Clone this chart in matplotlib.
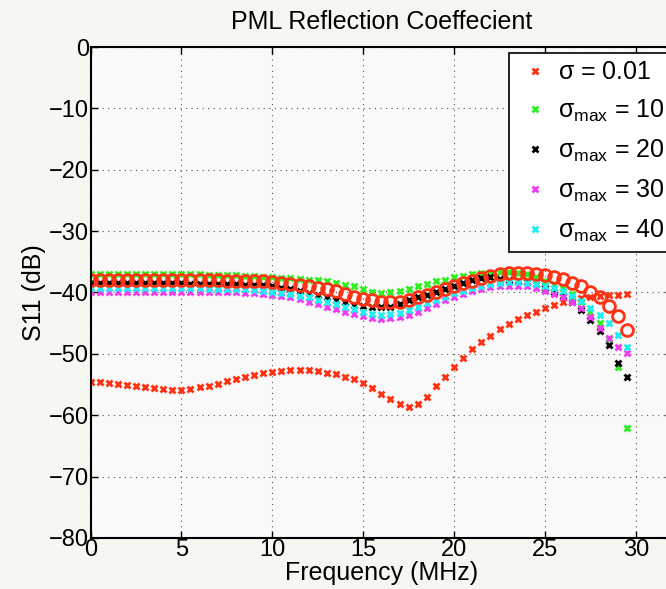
import matplotlib

matplotlib.use("Agg")
import matplotlib.pyplot as plt

plt.rcParams["font.family"] = ["Liberation Sans", "DejaVu Sans"]
plt.rcParams["mathtext.fontset"] = "custom"
plt.rcParams["mathtext.rm"] = "Liberation Sans"
plt.rcParams["mathtext.it"] = "Liberation Sans"
plt.rcParams["mathtext.bf"] = "Liberation Sans"

# frequency samples (MHz)
freq_mhz = [
    0.0, 0.5, 1.0, 1.5, 2.0, 2.5, 3.0, 3.5, 4.0, 4.5,
    5.0, 5.5, 6.0, 6.5, 7.0, 7.5, 8.0, 8.5, 9.0, 9.5,
    10.0, 10.5, 11.0, 11.5, 12.0, 12.5, 13.0, 13.5, 14.0, 14.5,
    15.0, 15.5, 16.0, 16.5, 17.0, 17.5, 18.0, 18.5, 19.0, 19.5,
    20.0, 20.5, 21.0, 21.5, 22.0, 22.5, 23.0, 23.5, 24.0, 24.5,
    25.0, 25.5, 26.0, 26.5, 27.0, 27.5, 28.0, 28.5, 29.0, 29.5,
]

# S11 in dB per conductivity profile
s11_sigma_001 = [
    -54.6, -54.6, -54.7, -54.85, -55.0, -55.2, -55.4, -55.6, -55.8, -55.85,
    -55.85, -55.65, -55.4, -55.2, -54.85, -54.5, -54.1, -53.7, -53.4, -53.1,
    -52.9, -52.75, -52.6, -52.55, -52.6, -52.8, -53.05, -53.35, -53.7, -54.1,
    -54.8, -55.6, -56.5, -57.3, -58.1, -58.7, -58.2, -57.0, -55.3, -53.7,
    -52.1, -50.6, -49.2, -48.0, -47.1, -46.0, -45.2, -44.3, -43.7, -43.1,
    -42.6, -42.0, -41.6, -41.3, -40.9, -40.7, -40.55, -40.4, -40.35, -40.3,
]
s11_smax_10 = [
    -37.0, -37.0, -37.0, -37.0, -37.0, -37.0, -37.0, -37.0, -37.0, -37.05,
    -37.05, -37.05, -37.05, -37.1, -37.1, -37.1, -37.2, -37.25, -37.3, -37.4,
    -37.5, -37.6, -37.7, -37.8, -37.9, -38.0, -38.2, -38.45, -38.7, -39.0,
    -39.5, -39.9, -40.1, -40.0, -39.7, -39.4, -39.0, -38.65, -38.2, -37.95,
    -37.5, -37.25, -37.0, -36.85, -36.75, -36.7, -36.7, -36.8, -36.95, -37.4,
    -38.05, -38.6, -39.3, -40.3, -41.5, -43.1, -44.9, -47.6, -52.2, -62.1,
]
s11_smax_20 = [
    -38.5, -38.5, -38.5, -38.5, -38.5, -38.5, -38.5, -38.5, -38.5, -38.5,
    -38.5, -38.55, -38.55, -38.55, -38.6, -38.65, -38.65, -38.7, -38.75, -38.85,
    -39.0, -39.2, -39.4, -39.75, -40.1, -40.4, -40.8, -41.2, -41.6, -42.0,
    -42.2, -42.3, -42.4, -42.35, -41.8, -41.3, -40.8, -40.4, -40.0, -39.5,
    -39.0, -38.5, -38.0, -37.7, -37.5, -37.8, -37.9, -38.1, -38.3, -38.6,
    -39.2, -39.9, -40.6, -41.5, -42.8, -44.4, -46.2, -48.6, -51.5, -53.8,
]
s11_smax_30 = [
    -39.85, -39.85, -39.85, -39.85, -39.85, -39.85, -39.85, -39.85, -39.85, -39.85,
    -39.85, -39.85, -39.85, -39.9, -39.9, -39.95, -40.0, -40.05, -40.1, -40.25,
    -40.4, -40.6, -40.8, -41.1, -41.5, -41.9, -42.3, -42.7, -43.1, -43.5,
    -43.9, -44.2, -44.3, -44.2, -44.0, -43.6, -43.1, -42.5, -41.9, -41.3,
    -40.7, -40.2, -39.8, -39.4, -39.15, -39.0, -38.9, -38.9, -39.0, -39.3,
    -39.7, -40.2, -40.8, -41.6, -42.6, -44.0, -45.8, -47.45, -48.9, -49.8,
]
s11_smax_40 = [
    -39.3, -39.3, -39.3, -39.3, -39.3, -39.3, -39.3, -39.3, -39.3, -39.3,
    -39.3, -39.3, -39.3, -39.35, -39.35, -39.4, -39.45, -39.5, -39.55, -39.7,
    -39.85, -40.05, -40.3, -40.55, -40.8, -41.15, -41.5, -41.9, -42.3, -42.7,
    -43.2, -43.5, -43.65, -43.5, -43.3, -42.9, -42.4, -41.75, -41.2, -40.7,
    -40.1, -39.7, -39.3, -38.9, -38.6, -38.4, -38.3, -38.3, -38.4, -38.6,
    -38.9, -39.3, -39.8, -40.5, -41.4, -42.5, -43.65, -45.0, -46.9, -48.8,
]
# unlabelled reference run drawn as open circles
s11_reference = [
    -37.95, -37.95, -37.95, -37.95, -37.95, -37.95, -37.95, -37.95, -37.95, -37.95,
    -37.95, -37.95, -37.95, -37.95, -38.0, -38.05, -38.1, -38.1, -38.1, -38.2,
    -38.3, -38.45, -38.6, -38.8, -39.0, -39.25, -39.5, -39.8, -40.2, -40.7,
    -41.1, -41.3, -41.5, -41.6, -41.5, -41.3, -40.8, -40.4, -40.0, -39.5,
    -39.0, -38.5, -38.05, -37.7, -37.3, -37.0, -36.9, -36.85, -36.85, -36.95,
    -37.2, -37.5, -37.8, -38.4, -39.0, -39.85, -40.8, -42.2, -43.9, -46.1,
]

series_labels = [
    r"$\sigma$ = 0.01",
    r"$\sigma_{\mathrm{max}}$ = 10",
    r"$\sigma_{\mathrm{max}}$ = 20",
    r"$\sigma_{\mathrm{max}}$ = 30",
    r"$\sigma_{\mathrm{max}}$ = 40",
]
series_colors = ["#ff3214", "#2ef01e", "#000000", "#f23cf2", "#1ef0f0"]

fig = plt.figure(figsize=(6.66, 5.89), dpi=100, facecolor="#f7f7f2")
# axes run slightly past the right edge of the canvas
ax = fig.add_axes([0.1359, 0.0866, 0.8735, 0.8336], facecolor="#f9f9f9")

all_series = [s11_sigma_001, s11_smax_10, s11_smax_20, s11_smax_30, s11_smax_40]
for vals, lab, col in zip(all_series, series_labels, series_colors):
    ax.plot(freq_mhz, vals, ls="none", marker="x", ms=4.8, mew=2.0,
            color=col, label=lab)
ax.plot(freq_mhz, s11_reference, ls="none", marker="o", ms=8.5, mew=2.0,
        mfc="none", mec="#ff3214", label="_nolegend_")

ax.set_xlim(0, 32)
ax.set_ylim(-80, 0)
ax.set_xticks([0, 5, 10, 15, 20, 25, 30])
ax.set_yticks([0, -10, -20, -30, -40, -50, -60, -70, -80])
ax.tick_params(direction="in", top=True, right=True, labelsize=17,
               length=5, width=1, pad=1)
ax.grid(True, ls=(0, (1, 4)), color="#555555", lw=0.8)
for sp in ax.spines.values():
    sp.set_linewidth(1.5)

ax.set_title("PML Reflection Coeffecient", fontsize=18, pad=13)
ax.set_xlabel("Frequency (MHz)", fontsize=18, labelpad=0)
ax.set_ylabel("S11 (dB)", fontsize=18, labelpad=2)

leg = ax.legend(loc="upper left", bbox_to_anchor=(0.7193, 0.988),
                borderaxespad=0, fontsize=18, frameon=True, fancybox=False,
                handlelength=1.5, handletextpad=0.15, labelspacing=0.55,
                markerscale=0.85, borderpad=0.3)
leg.get_frame().set_edgecolor("black")
leg.get_frame().set_linewidth(1.2)
leg.get_frame().set_facecolor("white")
leg.get_frame().set_alpha(1.0)

fig.savefig("out.png", dpi=100, facecolor=fig.get_facecolor())
